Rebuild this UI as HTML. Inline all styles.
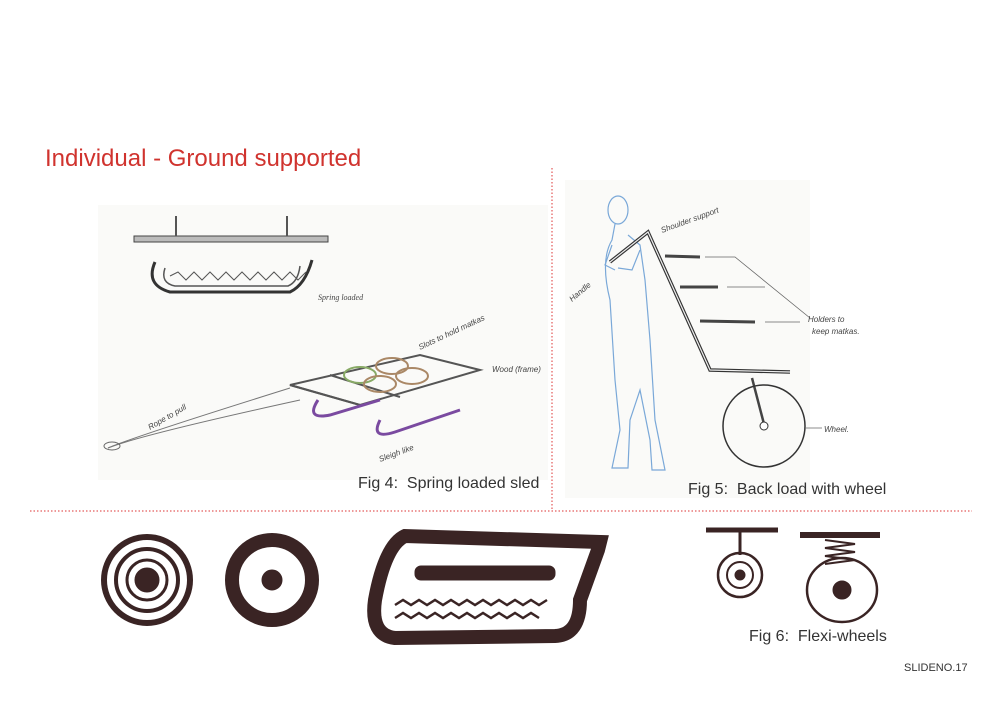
<!DOCTYPE html>
<html><head><meta charset="utf-8"><style>
html,body{margin:0;padding:0;background:#fff;}
body{width:1000px;height:707px;position:relative;overflow:hidden;font-family:"Liberation Sans",sans-serif;}
.t{position:absolute;white-space:nowrap;color:#333;}
</style></head><body>
<svg width="1000" height="707" style="position:absolute;left:0;top:0">
<rect x="98" y="205" width="450" height="275" fill="#fafaf8"/>
<rect x="565" y="180" width="245" height="318" fill="#fafaf8"/>
<line x1="552" y1="168" x2="552" y2="510" stroke="#d33" stroke-width="1" stroke-dasharray="1.5,2"/>
<line x1="30" y1="511" x2="972" y2="511" stroke="#d33" stroke-width="1" stroke-dasharray="1.5,2"/>
<!-- fig4 top -->
<rect x="134" y="236" width="194" height="6" fill="#bbb" stroke="#444"/>
<line x1="176" y1="216" x2="176" y2="236" stroke="#555" stroke-width="2"/>
<line x1="287" y1="216" x2="287" y2="236" stroke="#555" stroke-width="2"/>
<path d="M155 262 Q145 285 170 292 L290 292 Q305 285 312 260" fill="none" stroke="#333" stroke-width="3"/>
<path d="M165 268 Q160 283 175 286 L288 286 Q298 282 300 266" fill="none" stroke="#555" stroke-width="1.5"/>
<path d="M170 276 l8 -4 8 8 8 -8 8 8 8 -8 8 8 8 -8 8 8 8 -8 8 8 8 -8 8 8 8 -8 8 8 8 -8 8 8 8 -8" fill="none" stroke="#555" stroke-width="1"/>
<text x="318" y="300" font-size="8" fill="#444" font-family="Liberation Serif" font-style="italic">Spring loaded</text>
<!-- sled -->
<path d="M108 448 Q130 438 290 388" fill="none" stroke="#777" stroke-width="1"/>
<path d="M108 448 Q140 435 300 400" fill="none" stroke="#777" stroke-width="1"/>
<ellipse cx="112" cy="446" rx="8" ry="4" fill="none" stroke="#666"/>
<path d="M290 385 L420 355 L480 370 L360 405 Z" fill="none" stroke="#555" stroke-width="2"/>
<path d="M290 385 L360 405 M330 375 L400 397" stroke="#555" stroke-width="2"/>
<ellipse cx="360" cy="375" rx="16" ry="8" fill="none" stroke="#8a6" stroke-width="2"/>
<ellipse cx="392" cy="366" rx="16" ry="8" fill="none" stroke="#a86" stroke-width="2"/>
<ellipse cx="380" cy="384" rx="16" ry="8" fill="none" stroke="#a86" stroke-width="2"/>
<ellipse cx="412" cy="376" rx="16" ry="8" fill="none" stroke="#a86" stroke-width="2"/>
<path d="M318 400 Q305 420 330 415 L380 400" fill="none" stroke="#7a4aa0" stroke-width="3"/>
<path d="M380 420 Q370 440 395 432 L460 410" fill="none" stroke="#7a4aa0" stroke-width="3"/>
<text x="150" y="430" font-size="8" fill="#444" font-style="italic" transform="rotate(-30 150 430)">Rope to pull</text>
<text x="420" y="350" font-size="8" fill="#444" font-style="italic" transform="rotate(-25 420 350)">Slots to hold matkas</text>
<text x="492" y="372" font-size="8" fill="#444" font-style="italic">Wood (frame)</text>
<text x="380" y="462" font-size="8" fill="#444" font-style="italic" transform="rotate(-20 380 462)">Sleigh like</text>
<!-- fig5 -->
<g fill="none" stroke="#7aa8d8" stroke-width="1.2">
<ellipse cx="618" cy="210" rx="10" ry="14"/>
<path d="M615 224 L612 240 Q600 260 610 300 L615 380 L620 430 L612 468 L628 468 L630 420 L640 390 L650 440 L652 470 L665 470 L655 420 L650 340 L645 280 L640 245 L628 235"/>
<path d="M612 245 L605 265 L615 270 M640 250 L632 270 L618 268"/>
</g>
<path d="M610 262 L648 232 L710 370 L790 372" fill="none" stroke="#333" stroke-width="3.5"/>
<path d="M610 262 L648 232 L710 370 L790 372" fill="none" stroke="#eee" stroke-width="1.2"/>
<line x1="665" y1="256" x2="700" y2="257" stroke="#444" stroke-width="3"/>
<line x1="680" y1="287" x2="718" y2="287" stroke="#444" stroke-width="3"/>
<line x1="700" y1="321" x2="755" y2="322" stroke="#444" stroke-width="3"/>
<line x1="752" y1="378" x2="764" y2="424" stroke="#444" stroke-width="2.5"/>
<circle cx="764" cy="426" r="4" fill="#fff" stroke="#333"/>
<circle cx="764" cy="426" r="41" fill="none" stroke="#333" stroke-width="1.5"/>
<path d="M705 257 L735 257 L810 318 M727 287 L765 287 M765 322 L800 322" fill="none" stroke="#666" stroke-width="0.8"/>
<text x="662" y="233" font-size="8" fill="#444" font-style="italic" transform="rotate(-20 662 233)">Shoulder support</text>
<text x="572" y="302" font-size="8" fill="#444" font-style="italic" transform="rotate(-40 572 302)">Handle</text>
<text x="808" y="322" font-size="8" fill="#444" font-style="italic">Holders to</text>
<text x="812" y="334" font-size="8" fill="#444" font-style="italic">keep matkas.</text>
<line x1="805" y1="428" x2="822" y2="428" stroke="#666" stroke-width="0.8"/>
<text x="824" y="432" font-size="8" fill="#444" font-style="italic">Wheel.</text>
<!-- bottom sketches -->
<g fill="none" stroke="#3a2424">
<circle cx="147" cy="580" r="43" stroke-width="6"/>
<circle cx="147" cy="580" r="31" stroke-width="4"/>
<circle cx="147" cy="580" r="20" stroke-width="3"/>
<circle cx="147" cy="580" r="12" fill="#3a2424"/>
<circle cx="272" cy="580" r="40" stroke-width="14"/>
<circle cx="272" cy="580" r="10" fill="#3a2424"/>
<path d="M375 600 Q370 635 395 638 L555 636 Q580 635 580 600 L598 550 L600 542 L405 536 Q385 545 375 600 Z" stroke-width="14"/>
<rect x="415" y="566" width="140" height="14" rx="6" fill="#3a2424"/>
<path d="M395 605 l8 -5 8 5 8 -5 8 5 8 -5 8 5 8 -5 8 5 8 -5 8 5 8 -5 8 5 8 -5 8 5 8 -5 8 5 8 -5 8 5 8 -5 M395 618 l8 -5 8 5 8 -5 8 5 8 -5 8 5 8 -5 8 5 8 -5 8 5 8 -5 8 5 8 -5 8 5 8 -5 8 5 8 -5 8 5" stroke-width="2.5"/>
<line x1="706" y1="530" x2="778" y2="530" stroke-width="5"/>
<line x1="740" y1="530" x2="740" y2="555" stroke-width="3"/>
<circle cx="740" cy="575" r="22" stroke-width="2.5"/>
<circle cx="740" cy="575" r="13" stroke-width="2"/>
<circle cx="740" cy="575" r="5" fill="#3a2424"/>
<line x1="800" y1="535" x2="880" y2="535" stroke-width="6"/>
<path d="M825 540 l30 4 -30 4 30 4 -30 4 30 4 -30 4" stroke-width="2"/>
<ellipse cx="842" cy="590" rx="35" ry="32" stroke-width="2.5"/>
<circle cx="842" cy="590" r="9" fill="#3a2424"/>
</g>
</svg>
<div class="t" style="left:45px;top:145px;font-size:24px;color:#d0332e;">Individual - Ground supported</div>
<div class="t" style="left:358px;top:475px;font-size:16px;">Fig 4:&nbsp; Spring loaded sled</div>
<div class="t" style="left:688px;top:481px;font-size:16px;">Fig 5:&nbsp; Back load with wheel</div>
<div class="t" style="left:749px;top:628px;font-size:16px;">Fig 6:&nbsp; Flexi-wheels</div>
<div class="t" style="left:904px;top:662px;font-size:11px;">SLIDENO.17</div>
</body></html>
